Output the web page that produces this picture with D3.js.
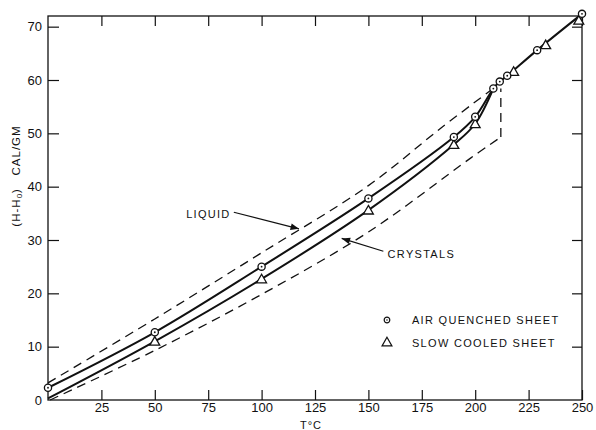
<!DOCTYPE html>
<html>
<head>
<meta charset="utf-8">
<script src="https://cdn.jsdelivr.net/npm/d3@7"></script>
<style>
  body { margin: 0; background: #fff; }
  text { font-family: "Liberation Sans", "DejaVu Sans", sans-serif; fill: #111; }
</style>
</head>
<body>
<script>
// Data (T in deg C, H-H0 in cal/gm)
const xTicks = [25, 50, 75, 100, 125, 150, 175, 200, 225, 250];
const yTicks = [0, 10, 20, 30, 40, 50, 60, 70];

// air quenched sheet (circles)
const airPoints = [[0, 2.3], [50, 12.7], [100, 25], [150, 37.8], [190, 49.3], [200, 53.1],
                   [208.5, 58.4], [211.5, 59.7], [215, 60.8], [229, 65.6], [250, 72.4]];
// slow cooled sheet (triangles)
const slowPoints = [[50, 11], [100, 22.7], [150, 35.6], [190, 47.9], [200, 51.8],
                    [218, 61.6], [233, 66.6], [248.5, 71.2]];
// solid curve for slow cooled, until it joins the air quenched curve
const slowCurve = [[0, 0.3], [50, 11], [100, 22.7], [150, 35.6], [190, 47.9], [200, 51.8], [208.5, 58.4]];
// dashed reference lines
const liquidLine = [[0, 3.2], [50, 15.2], [100, 27.6], [150, 40.2], [184, 51], [209, 58.6]];
const crystalLine = [[1, 0], [50, 9.3], [100, 19.8], [150, 31.5], [198, 45.4], [212, 49.3]];
const crystalStep = [[212, 49.3], [212, 58.4]];

let width = 596, height = 430;

let svg = d3.select('body')
    .append('svg')
    .attr('width', width)
    .attr('height', height);

let x = d3.scaleLinear().domain([0, 250]).range([48, 582]);
let y = d3.scaleLinear().domain([0, 72]).range([400, 16]);

// frame
svg.append('rect')
    .attr('x', x(0)).attr('y', y(72))
    .attr('width', x(250) - x(0)).attr('height', y(0) - y(72))
    .attr('fill', 'none').attr('stroke', '#111').attr('stroke-width', 1.3);

// ticks inward on all four sides
let axBottom = svg.append('g')
    .attr('transform', `translate(0,${y(0)})`)
    .call(d3.axisBottom(x).tickValues(xTicks).tickSizeInner(-10).tickSizeOuter(0).tickPadding(3));
let axTop = svg.append('g')
    .attr('transform', `translate(0,${y(72)})`)
    .call(d3.axisTop(x).tickValues(xTicks).tickSizeInner(-10).tickSizeOuter(0).tickFormat(''));
let axLeft = svg.append('g')
    .attr('transform', `translate(${x(0)},0)`)
    .call(d3.axisLeft(y).tickValues(yTicks).tickSizeInner(-11).tickSizeOuter(0).tickPadding(6));
let axRight = svg.append('g')
    .attr('transform', `translate(${x(250)},0)`)
    .call(d3.axisRight(y).tickValues(yTicks.filter(d => d > 0)).tickSizeInner(-10).tickSizeOuter(0).tickFormat(''));

[axBottom, axTop, axLeft, axRight].forEach(g => {
    g.select('.domain').remove();
    g.selectAll('line').attr('stroke', '#111').attr('stroke-width', 1.2);
    g.selectAll('text').style('font-family', '"Liberation Sans", sans-serif')
        .style('font-size', '13px').attr('fill', '#111');
});
axLeft.selectAll('.tick').filter(d => d === 0).select('line').remove();

// axis labels
svg.append('text')
    .attr('x', 300).attr('y', 429)
    .style('font-size', '11px').style('letter-spacing', '1px')
    .text('T°C');

let ylab = svg.append('text')
    .attr('transform', 'translate(20,176) rotate(-90)')
    .attr('text-anchor', 'middle')
    .style('font-size', '11.5px').style('letter-spacing', '1px');
ylab.append('tspan').text('(H-H');
ylab.append('tspan').attr('baseline-shift', '-30%').style('font-size', '8px').text('0');
ylab.append('tspan').text(')\u00a0\u00a0\u00a0CAL/GM');

// curves
let smooth = d3.line().x(d => x(d[0])).y(d => y(d[1])).curve(d3.curveCatmullRom.alpha(0.5));
let straight = d3.line().x(d => x(d[0])).y(d => y(d[1]));

svg.append('path').datum(liquidLine).attr('d', smooth)
    .attr('fill', 'none').attr('stroke', '#111').attr('stroke-width', 1.3).attr('stroke-dasharray', '9,6');
svg.append('path').datum(crystalLine).attr('d', smooth)
    .attr('fill', 'none').attr('stroke', '#111').attr('stroke-width', 1.3).attr('stroke-dasharray', '9,6');
svg.append('path').datum(crystalStep).attr('d', straight)
    .attr('fill', 'none').attr('stroke', '#111').attr('stroke-width', 1.3).attr('stroke-dasharray', '9,6');

svg.append('path').datum(airPoints).attr('d', smooth)
    .attr('fill', 'none').attr('stroke', '#111').attr('stroke-width', 2);
svg.append('path').datum(slowCurve).attr('d', smooth)
    .attr('fill', 'none').attr('stroke', '#111').attr('stroke-width', 2);

// markers
let tri = d3.symbol().type(d3.symbolTriangle).size(42);

svg.selectAll('.slow').data(slowPoints).enter().append('path')
    .attr('class', 'slow')
    .attr('d', tri)
    .attr('transform', d => `translate(${x(d[0])},${y(d[1]) + 1})`)
    .attr('fill', '#fff').attr('stroke', '#111').attr('stroke-width', 1.3);

svg.selectAll('.air').data(airPoints).enter().append('circle')
    .attr('class', 'air')
    .attr('cx', d => x(d[0])).attr('cy', d => y(d[1]))
    .attr('r', 3.6)
    .attr('fill', '#fff').attr('stroke', '#111').attr('stroke-width', 1.3);
svg.selectAll('.airdot').data(airPoints).enter().append('circle')
    .attr('cx', d => x(d[0])).attr('cy', d => y(d[1]))
    .attr('r', 0.9).attr('fill', '#111');

// annotations with arrows
svg.append('defs').append('marker')
    .attr('id', 'arrow').attr('viewBox', '0 0 10 10')
    .attr('refX', 10).attr('refY', 5)
    .attr('markerWidth', 9).attr('markerHeight', 7).attr('orient', 'auto')
    .append('path').attr('d', 'M0,1 L10,5 L0,9 Z').attr('fill', '#111');

svg.append('text')
    .attr('x', x(85.5)).attr('y', y(34.2))
    .attr('text-anchor', 'end')
    .style('font-size', '11px').style('letter-spacing', '1.3px')
    .text('LIQUID');
svg.append('line')
    .attr('x1', x(87)).attr('y1', y(35.2)).attr('x2', x(117.5)).attr('y2', y(32.1))
    .attr('stroke', '#111').attr('stroke-width', 1.2).attr('marker-end', 'url(#arrow)');

svg.append('text')
    .attr('x', x(159)).attr('y', y(26.6))
    .style('font-size', '11px').style('letter-spacing', '1.3px')
    .text('CRYSTALS');
svg.append('line')
    .attr('x1', x(157)).attr('y1', y(27.9)).attr('x2', x(137.5)).attr('y2', y(30.3))
    .attr('stroke', '#111').attr('stroke-width', 1.2).attr('marker-end', 'url(#arrow)');

// legend
let legend = svg.append('g').attr('transform', `translate(${x(158.7)},${y(15)})`);
legend.append('circle').attr('cx', 0).attr('cy', 0).attr('r', 2.8)
    .attr('fill', '#fff').attr('stroke', '#111').attr('stroke-width', 1.2);
legend.append('circle').attr('cx', 0).attr('cy', 0).attr('r', 0.8).attr('fill', '#111');
legend.append('text').attr('x', 25).attr('y', 4)
    .style('font-size', '11px').style('letter-spacing', '1.3px')
    .text('AIR QUENCHED SHEET');
legend.append('path').attr('d', tri)
    .attr('transform', 'translate(0,23)')
    .attr('fill', '#fff').attr('stroke', '#111').attr('stroke-width', 1.2);
legend.append('text').attr('x', 25).attr('y', 27)
    .style('font-size', '11px').style('letter-spacing', '1.3px')
    .text('SLOW COOLED SHEET');
</script>
</body>
</html>
